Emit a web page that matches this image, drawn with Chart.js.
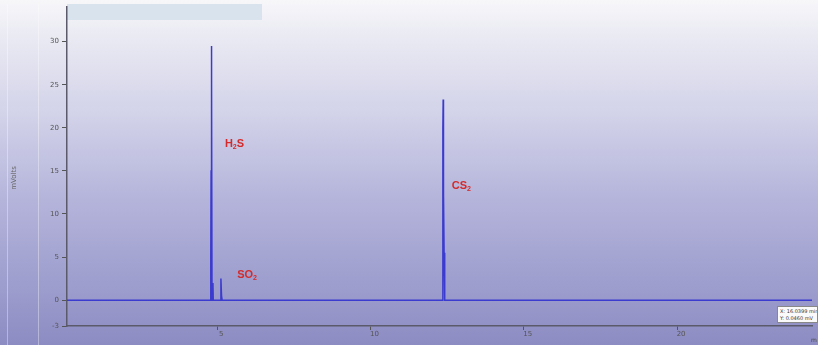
<!DOCTYPE html>
<html>
<head>
<meta charset="utf-8">
<script src="https://cdn.jsdelivr.net/npm/chart.js@4/dist/chart.umd.min.js"></script>
<style>
  html, body { margin: 0; padding: 0; }
  body {
    width: 818px; height: 345px; overflow: hidden;
    background: linear-gradient(to bottom, #f7f7fa 0px, #ececf4 30px, #d2d2e9 115px, #b4b4db 200px, #9c9ccd 290px, #8c8cc3 345px);
  }
  #wrap { position: relative; width: 818px; height: 345px; }
  #topbar { position: absolute; left: 67px; top: 4px; width: 195px; height: 16px; background: #d9e3ee; }
  .vline { position: absolute; top: 4px; bottom: 0; width: 1px; background: rgba(255,255,255,0.35); }
  #readout {
    position: absolute; left: 777px; top: 306px; width: 41px; height: 17px;
    background: #fafafa; border: 1px solid #888; box-sizing: border-box;
    font: 5px "DejaVu Sans", sans-serif; color: #333; line-height: 7px; padding: 1px 2px; white-space: nowrap; overflow: hidden;
  }
  canvas { position: absolute; left: 0; top: 0; }
</style>
</head>
<body>
<div id="wrap">
  <div class="vline" style="left:7px"></div>
  <div class="vline" style="left:38px"></div>
  <div id="topbar"></div>
  <canvas id="chart" width="818" height="345"></canvas>
  <div id="readout">X: 16.0399 min<br>Y: 0.0460 mV</div>
</div>
<script>
// ── Data ──────────────────────────────────────────────────────────────────────
const timeMin = [0.1, 4.77, 4.79, 4.80, 4.81, 4.82, 4.83, 4.86, 4.87, 4.88, 5.10, 5.12, 5.14, 5.16,
                 12.33, 12.35, 12.36, 12.37, 12.38, 12.40, 12.42, 24.4];
const signalMV = [0, 0, 5, 15, 29.5, 25.5, 0, 2, 0, 0, 0, 2.5, 0.5, 0,
                  0, 0, 20, 23.3, 12.5, 5.5, 0, 0];
const yTicks = [-3, 0, 5, 10, 15, 20, 25, 30];
const xTicks = [5, 10, 15, 20];
// peak labels split as [before subscript, subscript, after subscript]
const peakNames = [['H', '2', 'S'], ['SO', '2', ''], ['CS', '2', '']];
const peakLabelPos = [[5.25, 18.1], [5.65, 2.9], [12.65, 13.2]]; // [time, mV] anchor of labels

// ── Plugins ───────────────────────────────────────────────────────────────────
const peakLabels = {
  id: 'peakLabels',
  afterDatasetsDraw(chart) {
    const { ctx, scales: { x, y } } = chart;
    ctx.save();
    ctx.fillStyle = '#d42a2a';
    ctx.textBaseline = 'middle';
    const big = 'bold 11px "Liberation Sans", Arial, sans-serif';
    const small = 'bold 7px "Liberation Sans", Arial, sans-serif';
    peakNames.forEach((parts, i) => {
      let px = x.getPixelForValue(peakLabelPos[i][0]);
      const py = y.getPixelForValue(peakLabelPos[i][1]);
      ctx.font = big;
      ctx.fillText(parts[0], px, py);
      px += ctx.measureText(parts[0]).width;
      ctx.font = small;
      ctx.fillText(parts[1], px, py + 3);
      px += ctx.measureText(parts[1]).width;
      ctx.font = big;
      ctx.fillText(parts[2], px, py);
    });
    ctx.restore();
  }
};

const axisTitle = {
  id: 'axisTitle',
  afterDraw(chart) {
    const { ctx } = chart;
    ctx.save();
    ctx.fillStyle = '#666';
    ctx.font = '7px "DejaVu Sans", sans-serif';
    ctx.translate(16, 178);
    ctx.rotate(-Math.PI / 2);
    ctx.textAlign = 'center';
    ctx.fillText('mVolts', 0, 0);
    ctx.restore();
    ctx.save();
    ctx.fillStyle = '#444';
    ctx.font = '6px "DejaVu Sans", sans-serif';
    ctx.fillText('m', 811, 342);
    ctx.restore();
  }
};

// ── Chart ─────────────────────────────────────────────────────────────────────
new Chart(document.getElementById('chart'), {
  type: 'line',
  data: {
    datasets: [{
      data: timeMin.map((t, i) => ({ x: t, y: signalMV[i] })),
      borderColor: '#3b3bcf',
      borderWidth: 1.5,
      pointRadius: 0,
      tension: 0,
      fill: false
    }]
  },
  options: {
    responsive: false,
    animation: false,
    layout: { padding: { left: 0, right: 6, top: 2, bottom: 0 } },
    plugins: { legend: { display: false }, tooltip: { enabled: false } },
    scales: {
      x: {
        type: 'linear', min: 0.1, max: 24.4,
        afterBuildTicks: s => { s.ticks = xTicks.map(v => ({ value: v })); },
        grid: { display: true, drawOnChartArea: false, drawTicks: true, tickLength: 4, color: '#555' },
        border: { color: '#5a5a6a', width: 1.5 },
        ticks: { color: '#555', font: { size: 7, family: 'DejaVu Sans' }, padding: 0, labelOffset: 4, maxRotation: 0 },
        afterFit: s => { s.height = 19; }
      },
      y: {
        type: 'linear', min: -3, max: 34,
        afterBuildTicks: s => { s.ticks = yTicks.map(v => ({ value: v })); },
        grid: { display: true, drawOnChartArea: false, drawTicks: true, tickLength: 5, color: '#555' },
        border: { color: '#5a5a6a', width: 1.5 },
        ticks: { color: '#555', font: { size: 7, family: 'DejaVu Sans' }, padding: 3 },
        afterFit: s => { s.width = 67; }
      }
    }
  },
  plugins: [peakLabels, axisTitle]
});
</script>
</body>
</html>
